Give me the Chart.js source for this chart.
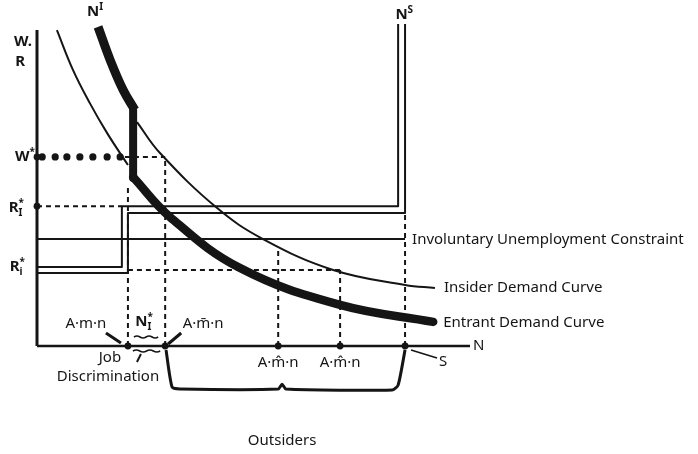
<!DOCTYPE html>
<html>
<head>
<meta charset="utf-8">
<script src="https://cdn.jsdelivr.net/npm/chart.js@4.4.0/dist/chart.umd.min.js"></script>
<style>
  html, body { margin: 0; padding: 0; background: #fff; }
</style>
</head>
<body>
<canvas id="myChart" width="698" height="454"></canvas>
<script>
// curves (N across, W/R up, both 0..100)
const insideThickN = [14.1, 16.9, 19.9, 22.6];
const insideThickW = [97.9, 87.7, 78.5, 72.4];
const insideN = [23.1, 28.4, 41.6, 52.2, 68.4, 85.0, 91.9];
const insideW = [68.7, 59.2, 42.3, 32.8, 23.3, 18.7, 17.8];
const entrantThinN = [4.6, 8.3, 12.2, 16.2, 21.0];
const entrantThinW = [96.9, 84.7, 74.5, 65.3, 55.5];
const entrantN = [22.2, 30.7, 46.9, 70.0, 91.5];
const entrantW = [51.8, 39.6, 23.9, 12.6, 7.4];

// levels and points on the N axis
const wStar = 58.0;
const rInsider = [42.9, 40.8];
const rOutsider = [24.2, 22.4];
const rDash = 23.3;
const constraintW = 32.8;
const topW = 98.8;
const axisTopW = 96.9;
const stepN = [19.6, 21.0];
const supplyN = [83.4, 85.0];
const kinkN = 22.2;
const kinkW = [72.4, 51.5];
const markN = [21.0, 29.6, 55.7, 70.0, 85.0];
const markTop = [48.8, 58.0, 30.1, 23.3, 40.8];
const markLabels = ['A·m·n', 'A·m̄·n', 'A·m̂·n', 'A·m̂·n', 'S'];
const wDotsN = [1.2, 4.2, 6.9, 9.9, 12.9, 16.2, 19.2];
const braceN = [29.8, 31.2, 33.0, 55.7, 56.6, 57.5, 82.0, 83.4, 85.0];
const braceW = [-1.2, -12.6, -13.2, -13.2, -11.7, -13.2, -13.5, -12.0, -1.2];
const curveLabels = ['Involuntary Unemployment Constraint', 'Insider Demand Curve', 'Entrant Demand Curve'];

const ink = '#151515';
const font = "'Noto Sans', 'DejaVu Sans', sans-serif";

function pts(xs, ys) {
    return xs.map((x, i) => ({ x: x, y: ys[i] }));
}

function line(data, width, extra) {
    return Object.assign({
        data: data,
        showLine: true,
        borderColor: ink,
        borderWidth: width,
        pointRadius: 0,
        fill: false,
        clip: false,
        tension: 0,
        borderJoinStyle: 'round'
    }, extra || {});
}

const dash = { borderDash: [5, 4] };
const smooth = { tension: 0.4 };

const datasets = [
    // axes
    line(pts([0, 100], [0, 0]), 2.5),
    line(pts([0, 0], [0, axisTopW]), 3),
    // outsider wage steps (double line) up to labour supply
    line(pts([0, stepN[0], stepN[0], supplyN[0], supplyN[0]],
             [rOutsider[0], rOutsider[0], rInsider[0], rInsider[0], topW]), 2),
    line(pts([0, stepN[1], stepN[1], supplyN[1], supplyN[1]],
             [rOutsider[1], rOutsider[1], rInsider[1], rInsider[1], topW]), 2),
    // involuntary unemployment constraint
    line(pts([0, supplyN[1]], [constraintW, constraintW]), 2),
    // dashed guides
    line(pts([0, stepN[0]], [rInsider[0], rInsider[0]]), 2, dash),
    line(pts([20.3, markN[1]], [wStar, wStar]), 2, dash),
    line(pts([markN[0], markN[3]], [rDash, rDash]), 2, dash),
    line(pts([markN[0], markN[0]], [0, markTop[0]]), 2, dash),
    line(pts([markN[1], markN[1]], [0, markTop[1]]), 2, dash),
    line(pts([markN[2], markN[2]], [0, markTop[2]]), 2, dash),
    line(pts([markN[3], markN[3]], [0, markTop[3]]), 2, dash),
    line(pts([markN[4], markN[4]], [0, markTop[4]]), 2, dash),
    // demand curves
    line(pts(entrantThinN, entrantThinW), 2, smooth),
    line(pts(insideN, insideW), 2, smooth),
    line(pts(entrantN, entrantW), 8.5, Object.assign({ borderCapStyle: 'round' }, smooth)),
    line(pts(insideThickN, insideThickW), 9, smooth),
    line(pts([kinkN, kinkN], kinkW), 8),
    // W* dotted line
    { data: pts(wDotsN, wDotsN.map(() => wStar)), showLine: false, pointRadius: 3.6,
      pointBackgroundColor: ink, pointBorderWidth: 0, clip: false },
    // dots on the axes
    { data: pts(markN, markN.map(() => 0)).concat(pts([0, 0], [wStar, rInsider[0]])),
      showLine: false, pointRadius: 3.4, pointBackgroundColor: ink, pointBorderWidth: 0, clip: false },
    // outsiders brace
    line(pts(braceN, braceW), 3, { tension: 0.2 })
];

const diagramText = {
    id: 'diagramText',
    afterDatasetsDraw(chart) {
        const ctx = chart.ctx;
        const px = v => chart.scales.x.getPixelForValue(v);
        const py = v => chart.scales.y.getPixelForValue(v);
        ctx.save();
        ctx.fillStyle = ink;
        ctx.strokeStyle = ink;
        ctx.textBaseline = 'middle';

        function text(t, x, y, align, size) {
            ctx.font = (size || 15) + 'px ' + font;
            ctx.textAlign = align || 'center';
            ctx.fillText(t, x, y);
        }
        // symbol with optional subscript / superscript, right edge at xr
        function sym(base, sub, sup, xr, y, size) {
            const s = size || 15;
            ctx.font = 'bold ' + s + 'px ' + font;
            const wb = ctx.measureText(base).width;
            ctx.font = 'bold ' + (s - 5) + 'px ' + font;
            const ws = Math.max(sub ? ctx.measureText(sub).width : 0, sup ? ctx.measureText(sup).width : 0);
            const x0 = xr - wb - ws;
            ctx.textAlign = 'left';
            ctx.font = 'bold ' + s + 'px ' + font;
            ctx.fillText(base, x0, y);
            ctx.font = 'bold ' + (s - 5) + 'px ' + font;
            if (sup) ctx.fillText(sup, x0 + wb, y - 5);
            if (sub) ctx.fillText(sub, x0 + wb, y + 5);
        }
        function stroke(x1, y1, x2, y2, w) {
            ctx.lineWidth = w;
            ctx.beginPath();
            ctx.moveTo(x1, y1);
            ctx.lineTo(x2, y2);
            ctx.stroke();
        }
        function tilde(x1, x2, y) {
            ctx.lineWidth = 1.5;
            ctx.beginPath();
            ctx.moveTo(x1, y);
            const step = (x2 - x1) / 4;
            for (let i = 0; i < 4; i++) {
                ctx.quadraticCurveTo(x1 + step * (i + 0.5), y + (i % 2 ? 2 : -2), x1 + step * (i + 1), y);
            }
            ctx.stroke();
        }

        const x0 = px(0), y0 = py(0);

        // vertical axis title and level labels
        sym('W.', null, null, x0 - 5, py(93.3), 15);
        sym('R', null, null, x0 - 12, py(87.1), 15);
        sym('W', null, '*', x0 - 2, py(wStar), 15);
        sym('R', 'I', '*', x0 - 13, py(rInsider[0]) + 2, 15);
        sym('R', 'i', '*', x0 - 12, py(rOutsider[0]), 15);

        // top labels
        sym('N', null, 'I', px(insideThickN[0]) + 5, 12, 15);
        sym('N', null, 'S', px(supplyN[0]) + 15, 15, 15);

        // curve labels on the right
        text(curveLabels[0], px(supplyN[1]) + 7, py(constraintW) + 1, 'left', 15);
        text(curveLabels[1], px(insideN[6]) + 9, py(insideW[6]), 'left', 15);
        text(curveLabels[2], px(entrantN[4]) + 10, py(entrantW[4]) + 1, 'left', 15);
        text('N', px(100) + 3, y0, 'left', 15);

        // labels around the N axis
        text(markLabels[0], px(markN[0]) - 42, y0 - 22, 'center', 15);
        stroke(px(markN[0]) - 22, y0 - 13, px(markN[0]) - 7, y0 - 3, 3);
        text(markLabels[1], px(markN[1]) + 38, y0 - 22, 'center', 15);
        stroke(px(markN[1]) + 16, y0 - 13, px(markN[1]) + 3, y0 - 2, 3);
        sym('N', 'I', '*', px(markN[0]) + 25, y0 - 24, 15);
        tilde(px(markN[0]) + 6, px(markN[1]) - 7, y0 - 9);
        tilde(px(markN[0]) + 5, px(markN[1]) - 5, y0 + 5);
        stroke(px(markN[0]) + 13, y0 + 8, px(markN[0]) + 9, y0 + 16, 2);
        text('Job', px(markN[0]) - 18, y0 + 12, 'center', 15);
        text('Discrimination', px(markN[0]) - 20, y0 + 31, 'center', 15);
        text(markLabels[2], px(markN[2]), y0 + 17, 'center', 15);
        text(markLabels[3], px(markN[3]), y0 + 17, 'center', 15);
        text(markLabels[4], px(markN[4]) + 38, y0 + 16, 'center', 15);
        stroke(px(markN[4]) + 32, y0 + 12, px(markN[4]) + 6, y0 + 4, 1.5);
        text('Outsiders', px(braceN[4]), y0 + 95, 'center', 15);

        ctx.restore();
    }
};

const chartElement = document.getElementById('myChart');

new Chart(chartElement, {
    type: 'scatter',
    data: { datasets: datasets },
    options: {
        responsive: false,
        animation: false,
        devicePixelRatio: 1,
        layout: { padding: { left: 37, right: 228, top: 20, bottom: 108 } },
        scales: {
            x: { type: 'linear', min: 0, max: 100, display: false },
            y: { type: 'linear', min: 0, max: 100, display: false }
        },
        plugins: {
            legend: { display: false },
            tooltip: { enabled: false }
        }
    },
    plugins: [diagramText]
});
</script>
</body>
</html>
